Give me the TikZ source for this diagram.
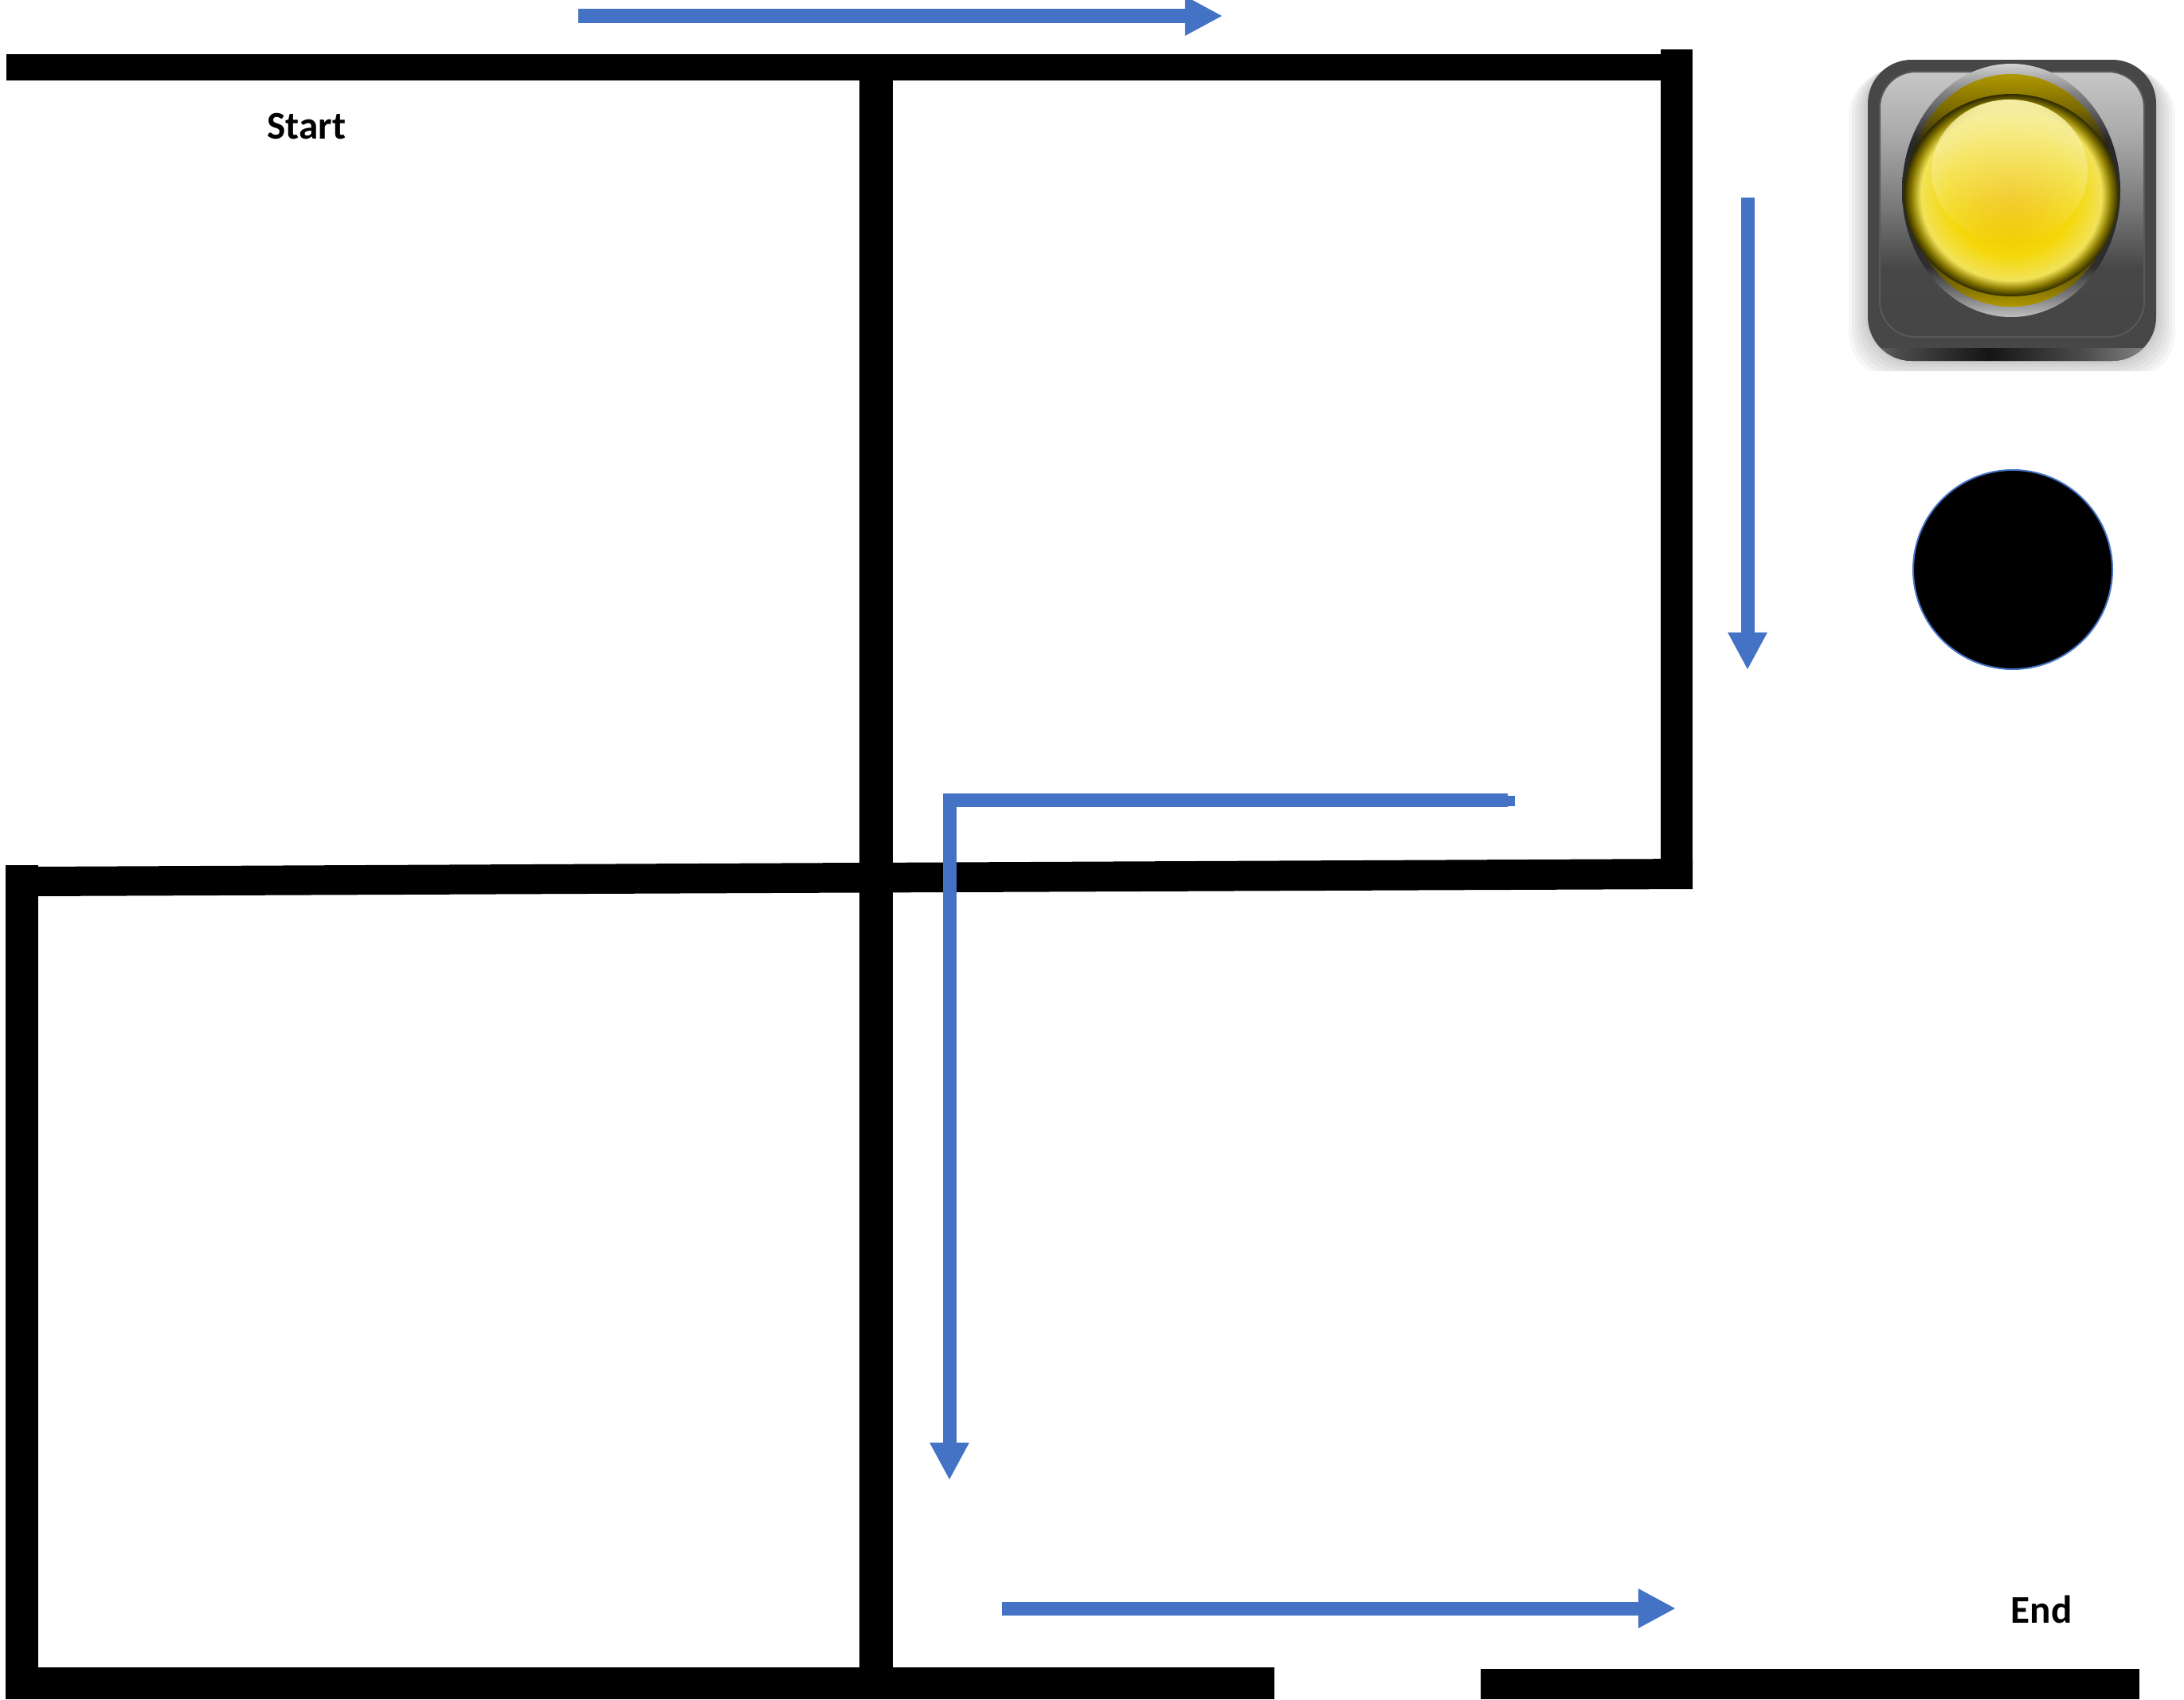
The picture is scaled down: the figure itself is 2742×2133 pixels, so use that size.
\documentclass[tikz,border=0pt]{standalone}
\usepackage{fontspec}
\setmainfont{Carlito}
\usepackage{xcolor}
\usetikzlibrary{arrows.meta,fadings}

\definecolor{flowblue}{HTML}{4472C4}
\definecolor{lensA}{HTML}{F0BE00}
\definecolor{lensB}{HTML}{F2C800}
\definecolor{lensC}{HTML}{F4D80C}
\definecolor{lensD}{HTML}{F2E258}
\definecolor{lensE}{HTML}{8A7A00}
\definecolor{lensF}{HTML}{2E2A00}
\definecolor{ringA}{HTML}{B09800}
\definecolor{ringB}{HTML}{7A6A00}
\definecolor{ringC}{HTML}{2A2816}
\definecolor{glowpale}{HTML}{F7F0A4}
\pgfdeclareverticalshading{plateshade}{100bp}{color(0bp)=(black!73);color(25bp)=(black!73);color(38bp)=(black!72);color(50bp)=(black!52);color(62.5bp)=(black!34);color(75bp)=(black!22);color(100bp)=(black!22)}
\pgfdeclareverticalshading{bezelshade}{100bp}{color(0bp)=(black!25);color(25bp)=(black!25);color(29bp)=(black!50);color(35bp)=(black!82);color(60bp)=(black!84);color(69bp)=(black!50);color(75bp)=(black!18);color(100bp)=(black!18)}
\pgfdeclareverticalshading{ringshade}{100bp}{color(0bp)=(ringA);color(25bp)=(ringA);color(30bp)=(ringB);color(37.5bp)=(ringC);color(60bp)=(ringC);color(67.5bp)=(ringB);color(75bp)=(ringA);color(100bp)=(ringA)}
\pgfdeclareradialshading{lensshade}{\pgfpoint{0bp}{0bp}}{color(0bp)=(lensA);color(7.5bp)=(lensB);color(15bp)=(lensC);color(21bp)=(lensD);color(23.2bp)=(lensE);color(25bp)=(lensF);color(50bp)=(lensF)}
\pgfdeclarehorizontalshading{rimshade}{100bp}{color(0bp)=(black!55);color(25bp)=(black!55);color(30bp)=(black!70);color(46bp)=(black!92);color(62.5bp)=(black!70);color(75bp)=(black!45);color(100bp)=(black!45)}

\begin{document}
\begin{tikzpicture}[x=0.01cm, y=-0.01cm, >={Triangle[length=0.47cm,width=0.46cm]},
    wall/.style={fill=black},
    flow/.style={->, draw=flowblue, line width=0.17cm},
    maplabel/.style={font=\fontsize{14}{16}\selectfont\bfseries, inner sep=0pt}]
  \useasboundingbox (0,0) rectangle (2742,2133);
  % --- Walls ---
  \fill[wall] (8,68) rectangle (2100,101);
  \fill[wall] (2085,62) rectangle (2125,1116);
  \fill[wall] (1079,90) rectangle (1121,2100);
  \fill[wall] (40,1088) -- (2125,1078) -- (2125,1116) -- (40,1125) -- cycle;
  \fill[wall] (7,1086) rectangle (48,2133);
  \fill[wall] (7,2093) rectangle (1600,2133);
  \fill[wall] (1859,2095) rectangle (2686,2133);
  % --- Flow arrows ---
  \coordinate (topA) at (726,20);
  \coordinate (topB) at (1535,20);
  \coordinate (sideA) at (2194,248);
  \coordinate (sideB) at (2194,841);
  \coordinate (bendA) at (1893,1004);
  \coordinate (bendC) at (1192,1004);
  \coordinate (bendB) at (1192,1858);
  \coordinate (lowA) at (1258,2019);
  \coordinate (lowB) at (2104,2019);
  \draw[flow] (topA) -- (topB);
  \draw[flow] (sideA) -- (sideB);
  \draw[flow] (bendA) -- (bendC) -- (bendB);
  \fill[flowblue] (1893,999) rectangle (1902,1012);
  \draw[flow] (lowA) -- (lowB);
  % --- Labels ---
  \node[maplabel] (startlabel) at (385,159) {Start};
  \node[maplabel] (endlabel) at (2563,2020) {End};
  % --- Black disc ---
  \fill[black, draw=flowblue, line width=0.02cm] (2527,715) circle (125);
  % --- Signal lamp ---
  \begin{scope}
    \clip (2320,60) rectangle (2733,465);
    \foreach \s in {24,20,16,12,8,4}
      \fill[black, opacity=0.035, rounded corners=0.6cm] (2345-\s,75+\s/2) rectangle (2707+\s,453+\s);
  \end{scope}
  \fill[black!72, rounded corners=0.55cm] (2345,75) rectangle (2707,453);
  \begin{scope}
    \clip[rounded corners=0.55cm] (2345,75) rectangle (2707,453);
    \shade[shading=rimshade] (2345,437) rectangle (2707,453);
  \end{scope}
  \shade[shading=plateshade, draw=black!65, line width=0.02cm, rounded corners=0.45cm] (2360,90) rectangle (2692,423);
  \shade[shading=bezelshade] (2525,239) ellipse (137 and 159);
  \shade[shading=ringshade] (2525,239) ellipse (131 and 146);
  \shade[shading=lensshade] (2525,245) ellipse (135 and 127);
  \fill[glowpale, path fading=south] (2523,215) ellipse (98 and 90);
\end{tikzpicture}
\end{document}
